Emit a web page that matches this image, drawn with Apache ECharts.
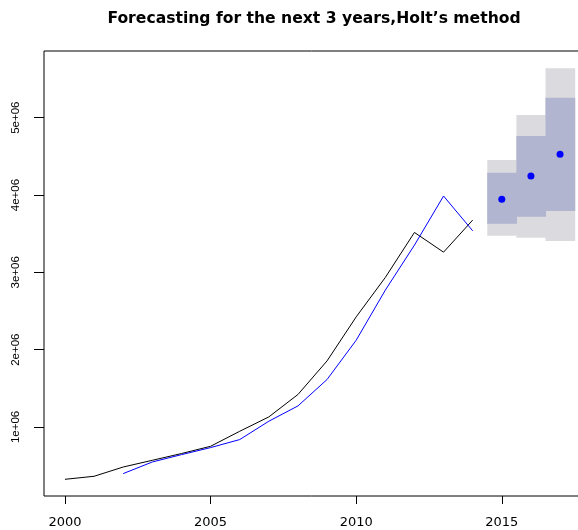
<!DOCTYPE html>
<html>
<head>
<meta charset="utf-8">
<script src="https://cdn.jsdelivr.net/npm/echarts@6/dist/echarts.min.js"></script>
<style>
  html, body { margin: 0; padding: 0; background: #fff; }
  #chart { width: 578px; height: 530px; }
</style>
</head>
<body>
<div id="chart"></div>
<script>
// Observed yearly series and Holt's one-step fitted values
const years = [2000, 2001, 2002, 2003, 2004, 2005, 2006, 2007, 2008, 2009, 2010, 2011, 2012, 2013, 2014];
const actual = [323000, 362000, 482000, 569000, 656000, 750000, 944000, 1130000, 1420000, 1855000, 2424000, 2934000, 3516000, 3261000, 3676000];
const fittedYears = [2002, 2003, 2004, 2005, 2006, 2007, 2008, 2009, 2010, 2011, 2012, 2013, 2014];
const fitted = [397000, 547000, 642000, 733000, 837000, 1074000, 1272000, 1614000, 2122000, 2770000, 3352000, 3987000, 3537000];

// Three-year forecast with 80% and 95% prediction intervals
const forecastYears = [2015, 2016, 2017];
const forecastMean = [3947000, 4245000, 4526000];
const lo80 = [3628000, 3719000, 3792000];
const hi80 = [4288000, 4763000, 5259000];
const lo95 = [3473000, 3447000, 3404000];
const hi95 = [4452000, 5035000, 5640000];

// Axis ticks
const xTicks = [2000, 2005, 2010, 2015];
const yTicks = [1000000, 2000000, 3000000, 4000000, 5000000];
const yTickLabels = ['1e+06', '2e+06', '3e+06', '4e+06', '5e+06'];

const zip = (xs, ys) => xs.map((x, i) => [x, ys[i]]);

// Each interval is a one-year-wide block centred on its forecast year
function bandRenderer(fill) {
  return function (params, api) {
    const yr = api.value(0);
    const tl = api.coord([yr - 0.5, api.value(2)]);
    const br = api.coord([yr + 0.5, api.value(1)]);
    return {
      type: 'rect',
      shape: { x: tl[0], y: tl[1], width: br[0] - tl[0] + 0.6, height: br[1] - tl[1] },
      style: { fill: fill }
    };
  };
}

const chart = echarts.init(document.getElementById('chart'), null, { renderer: 'canvas' });
chart.setOption({
  animation: false,
  backgroundColor: '#fff',
  title: {
    text: 'Forecasting for the next 3 years,Holt\u2019s method',
    left: 309,
    top: 6,
    textAlign: 'center',
    textStyle: { fontFamily: 'DejaVu Sans', fontWeight: 'bold', fontSize: 15.6, color: '#000' }
  },
  grid: {
    left: 44, top: 51, width: 551, height: 445,
    outerBoundsMode: 'none', containLabel: false,
    show: true, borderColor: '#000', borderWidth: 1, backgroundColor: 'transparent'
  },
  xAxis: {
    type: 'value',
    min: 1999.28, max: 2018.2,
    splitLine: { show: false },
    axisLine: { show: false },
    axisTick: { show: true, inside: false, length: 8, lineStyle: { color: '#000' }, customValues: xTicks },
    axisLabel: {
      customValues: xTicks, margin: 20, color: '#000',
      fontFamily: 'DejaVu Sans', fontSize: 13,
      formatter: v => String(v)
    }
  },
  yAxis: {
    type: 'value',
    min: 107000, max: 5863000,
    splitLine: { show: false },
    axisLine: { show: false },
    axisTick: { show: true, inside: false, length: 10, lineStyle: { color: '#000' }, customValues: yTicks },
    axisLabel: {
      customValues: yTicks, rotate: 90, margin: 22, color: '#000',
      fontFamily: 'Liberation Sans', fontSize: 11.5,
      formatter: v => yTickLabels[yTicks.indexOf(v)]
    }
  },
  series: [
    {
      type: 'custom', name: '95%', renderItem: bandRenderer('#dbdbdf'),
      data: forecastYears.map((y, i) => [y, lo95[i], hi95[i]]),
      encode: { x: 0, y: [1, 2] }, z: 1, silent: true
    },
    {
      type: 'custom', name: '80%', renderItem: bandRenderer('#b1b5cf'),
      data: forecastYears.map((y, i) => [y, lo80[i], hi80[i]]),
      encode: { x: 0, y: [1, 2] }, z: 2, silent: true
    },
    {
      type: 'line', name: 'actual', data: zip(years, actual),
      showSymbol: false, symbol: 'none', lineStyle: { color: '#000', width: 1 }, z: 3
    },
    {
      type: 'line', name: 'fitted', data: zip(fittedYears, fitted),
      showSymbol: false, symbol: 'none', lineStyle: { color: '#0000ff', width: 1 }, z: 3
    },
    {
      type: 'scatter', name: 'forecast', data: zip(forecastYears, forecastMean),
      symbol: 'circle', symbolSize: 7, itemStyle: { color: '#0000ff', opacity: 1 }, z: 4
    }
  ]
});
</script>
</body>
</html>
